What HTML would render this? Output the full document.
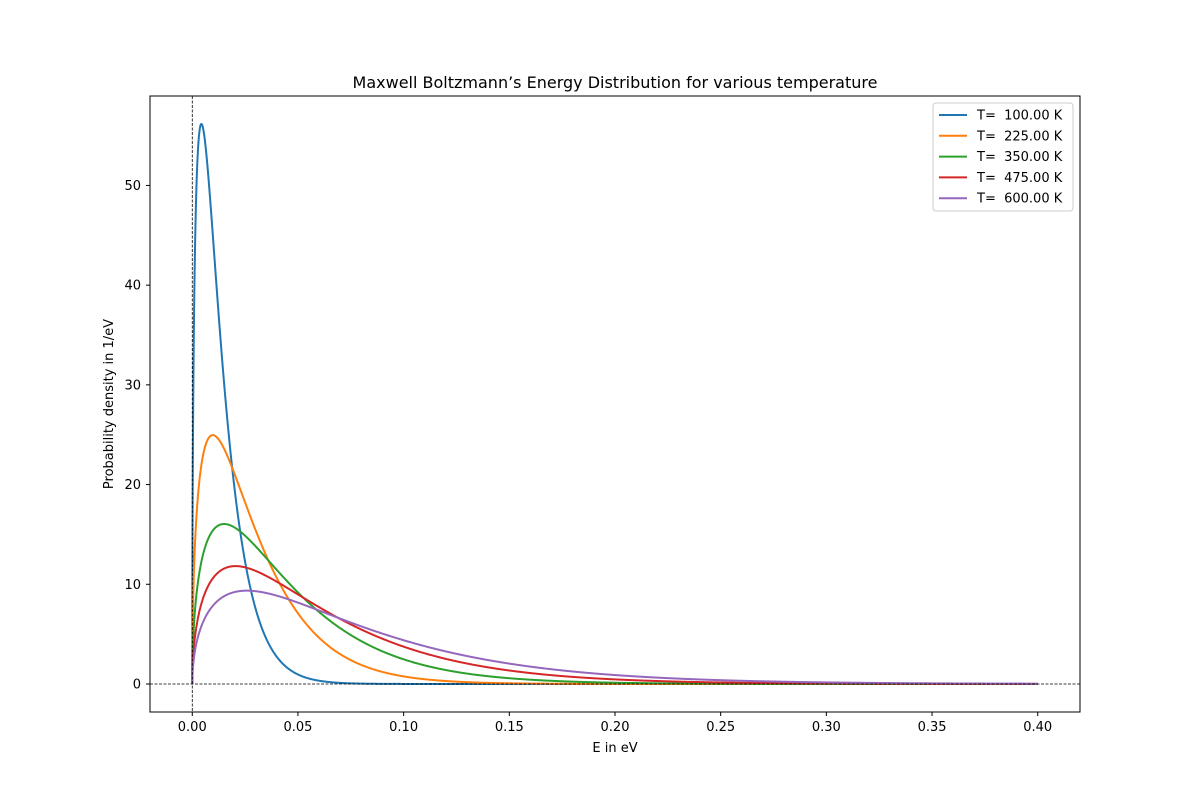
<!DOCTYPE html>
<html><head><meta charset="utf-8"><style>
body{margin:0;background:#fff;}
svg text{font-family:"DejaVu Sans","Liberation Sans",sans-serif;}
.pre{white-space:pre;}
</style></head><body>
<svg id="chart" width="1200" height="800" xmlns="http://www.w3.org/2000/svg">
<rect width="1200" height="800" fill="#fff"/>
<text x="615" y="88" text-anchor="middle" font-size="16">Maxwell Boltzmann’s Energy Distribution for various temperature</text>
<g id="plot"></g>
<rect x="150" y="96" width="930" height="616" fill="none" stroke="#000" stroke-width="1"/>
<text x="615" y="752" text-anchor="middle" font-size="13">E in eV</text>
<text transform="translate(113,404) rotate(-90)" text-anchor="middle" font-size="13">Probability density in 1/eV</text>
</svg>
<script>
const temperatures=[100,225,350,475,600];
const seriesColors=['#1f77b4','#ff7f0e','#2ca02c','#d62728','#9467bd'];
const xTicks=[0,0.05,0.10,0.15,0.20,0.25,0.30,0.35,0.40];
const yTicks=[0,10,20,30,40,50];
const eMax=0.4;
const kB=8.617e-5;
const X0=150,X1=1080,Y0=712,Y1=96;
const xMin=-0.02,xMax=0.42,yMin=-2.81,yMax=58.97;
const xs=v=>X0+(v-xMin)/(xMax-xMin)*(X1-X0);
const ys=v=>Y0-(v-yMin)/(yMax-yMin)*(Y0-Y1);
const NS='http://www.w3.org/2000/svg';
const g=document.getElementById('plot');
function mk(t,a){const e=document.createElementNS(NS,t);for(const k in a)e.setAttribute(k,a[k]);g.appendChild(e);return e;}
xTicks.forEach(t=>{
 const l=mk('line',{x1:xs(t),x2:xs(t),y1:712,y2:716,stroke:'#000'});
 
 
 const tx=mk('text',{x:xs(t),y:731,'text-anchor':'middle','font-size':13});
 tx.textContent=t.toFixed(2);
 
 
});
yTicks.forEach(t=>{
 const l=mk('line',{x1:146,x2:150,y1:ys(t),y2:ys(t),stroke:'#000'});
 
 
 const tx=mk('text',{x:141,y:ys(t)+4.5,'text-anchor':'end','font-size':13});
 tx.textContent=t;
 
 
});
temperatures.forEach((T,i)=>{
 const kT=kB*T;let d='';const N=2000;
 for(let j=0;j<=N;j++){const E=eMax*Math.pow(j/N,2);
  const f=2*Math.sqrt(E/Math.PI)*Math.pow(1/kT,1.5)*Math.exp(-E/kT);
  d+=(j?'L':'M')+xs(E).toFixed(2)+','+ys(f).toFixed(2);}
 const p=mk('path',{d:d,fill:'none',stroke:seriesColors[i],'stroke-width':2});
 
 
});
const hl=mk('line',{x1:150,x2:1080,y1:ys(0),y2:ys(0),stroke:'#000','stroke-width':0.8,'stroke-dasharray':'3,1.5'});


const vl=mk('line',{x1:xs(0),x2:xs(0),y1:96,y2:712,stroke:'#000','stroke-width':0.8,'stroke-dasharray':'3,1.5'});


const lg=mk('rect',{x:933,y:103,width:140,height:108,rx:3,fill:'#fff','fill-opacity':0.8,stroke:'#ccc'});


temperatures.forEach((T,i)=>{
 const y=115+i*20.8;
 const l=mk('line',{x1:939,x2:967,y1:y,y2:y,stroke:seriesColors[i],'stroke-width':2});
 
 
 const t=mk('text',{x:977,y:y+4.5,'font-size':13,'class':'pre'});
 t.textContent='T=  '+T.toFixed(2)+' K';
 
 
});
</script>
</body></html>
